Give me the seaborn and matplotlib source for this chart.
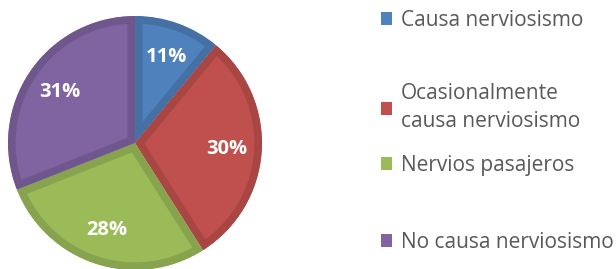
import matplotlib
matplotlib.use("Agg")
import matplotlib.pyplot as plt
import matplotlib.colors as mcolors
from matplotlib.patches import Patch
import seaborn as sns

# Data
categories = ["Causa nerviosismo", "Ocasionalmente\ncausa nerviosismo",
              "Nervios pasajeros", "No causa nerviosismo"]
shares = [11, 30, 28, 31]
colors = ["#4F81BD", "#C0504D", "#9BBB59", "#8064A2"]
legend_y = [0.925, 0.60, 0.385, 0.10]

sns.set_theme(style="white")
plt.rcParams['font.family'] = ['Open Sans', 'DejaVu Sans']

fig = plt.figure(figsize=(6.16, 2.69), dpi=100)
ax = fig.add_axes([8 / 616, (126 - 127) / 269, 254 / 616, 254 / 269])

def darker(c, f=0.87):
    r, g, b = mcolors.to_rgb(c)
    return (r * f, g * f, b * f)

wedges, texts, autotexts = ax.pie(
    shares, colors=colors, startangle=90, counterclock=False,
    autopct=lambda p: f"{p:.0f}%", pctdistance=0.72,
    textprops=dict(color="white", fontsize=14.5, fontweight="bold"),
)
ax.set_xlim(-1, 1)
ax.set_ylim(-1, 1)
ax.set_aspect("equal")
ax.axis("off")

# darker inner band on every slice (stroke clipped to the slice itself)
for w, c in zip(wedges, colors):
    w.set_edgecolor(darker(c))
    w.set_linewidth(11)
    w.set_clip_on(True)
    w.set_clip_path(w)

# legend entries, one per category
for cat, c, y in zip(categories, colors, legend_y):
    leg = fig.legend(handles=[Patch(facecolor=c, edgecolor="none")], labels=[cat],
                     loc="center left", bbox_to_anchor=(381 / 616, y),
                     frameon=False, fontsize=15, handlelength=0.55, handleheight=0.55,
                     handletextpad=0.4, borderpad=0, borderaxespad=0,
                     labelcolor="#595959")
    for t in leg.get_texts():
        t.set_linespacing(1.45)

fig.savefig("out.png", dpi=100)
